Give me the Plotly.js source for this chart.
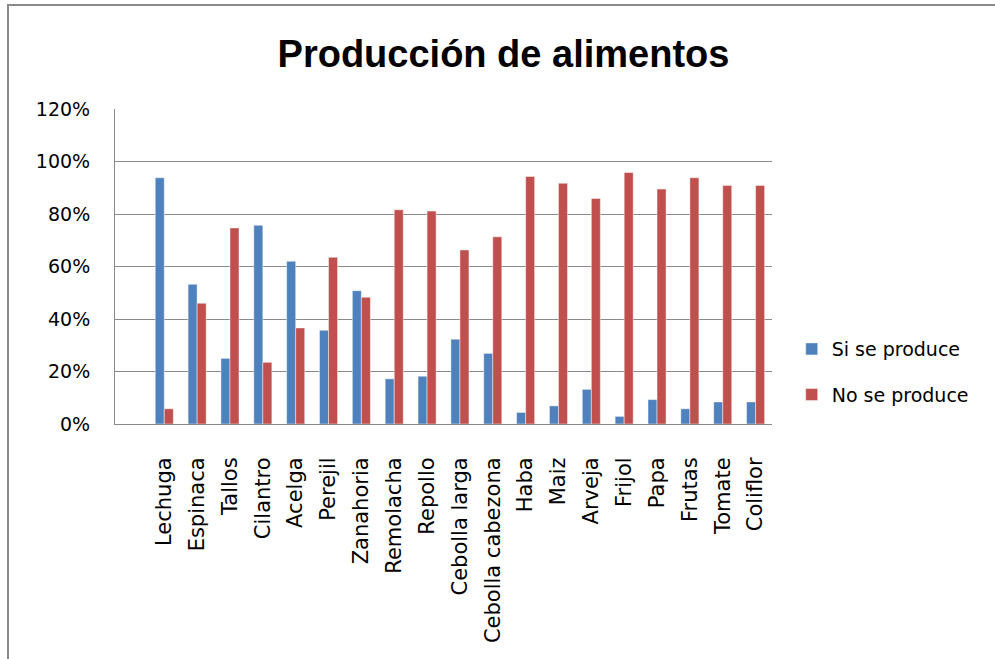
<!DOCTYPE html>
<html>
<head>
<meta charset="utf-8">
<script src="https://cdn.plot.ly/plotly-3.0.1.min.js"></script>
<style>
  html, body { margin: 0; padding: 0; background: #ffffff; }
  #wrap { position: relative; width: 995px; height: 659px; overflow: hidden; background: #ffffff; }
  #frame { position: absolute; left: 7px; top: 4px; width: 1000px; height: 700px;
           border-left: 2px solid #8a8a8a; border-top: 2px solid #8a8a8a; }
  #chart { position: absolute; left: 0; top: 0; width: 995px; height: 659px; }
</style>
</head>
<body>
<div id="wrap">
  <div id="frame"></div>
  <div id="chart"></div>
</div>
<script>
const categories = ["Lechuga", "Espinaca", "Tallos", "Cilantro", "Acelga", "Perejil", "Zanahoria",
  "Remolacha", "Repollo", "Cebolla larga", "Cebolla cabezona", "Haba", "Maiz", "Arveja",
  "Frijol", "Papa", "Frutas", "Tomate", "Coliflor"];
const siSeProduce = [0.938, 0.532, 0.250, 0.757, 0.620, 0.357, 0.508, 0.172, 0.182, 0.323,
  0.269, 0.044, 0.069, 0.132, 0.029, 0.093, 0.058, 0.084, 0.084];
const noSeProduce = [0.058, 0.460, 0.747, 0.235, 0.366, 0.635, 0.483, 0.816, 0.811, 0.663,
  0.713, 0.943, 0.917, 0.859, 0.958, 0.895, 0.938, 0.909, 0.909];
const seriesNames = ["Si se produce", "No se produce"];
const yTickValues = [0, 0.2, 0.4, 0.6, 0.8, 1.0, 1.2];

const COLOR_SI = "#4F81BD";
const COLOR_NO = "#C0504D";

const traces = [
  { type: "bar", name: seriesNames[0], x: categories, y: siSeProduce, legendgroup: "g1",
    marker: { color: COLOR_SI, line: { color: "rgba(255,255,255,0.45)", width: 1 } },
    hoverinfo: "x+y" },
  { type: "bar", name: seriesNames[1], x: categories, y: noSeProduce, legendgroup: "g2",
    marker: { color: COLOR_NO, line: { color: "rgba(255,255,255,0.45)", width: 1 } },
    hoverinfo: "x+y" }
];

const tickFont = { family: "DejaVu Sans, Verdana, sans-serif", size: 19, color: "#000000" };

const layout = {
  width: 995, height: 659,
  paper_bgcolor: "rgba(0,0,0,0)",
  plot_bgcolor: "rgba(0,0,0,0)",
  margin: { l: 115, r: 223, t: 109, b: 235, pad: 0 },
  title: {
    text: "<b>Producción de alimentos</b>",
    font: { family: "Liberation Sans, Arial, sans-serif", size: 38, color: "#000000" },
    x: 0.506, xref: "container", xanchor: "center",
    y: 0.918, yref: "container", yanchor: "middle"
  },
  barmode: "group",
  bargap: 0.45,
  bargroupgap: 0,
  showlegend: true,
  legend: {
    x: 1.03, xanchor: "left", y: 0.165, yanchor: "middle",
    font: { family: "DejaVu Sans, Verdana, sans-serif", size: 19, color: "#000000" },
    bgcolor: "rgba(0,0,0,0)", borderwidth: 0,
    tracegroupgap: 18, itemwidth: 30
  },
  xaxis: {
    type: "category",
    range: [-1.5, categories.length - 0.5],
    tickangle: -90,
    tickfont: { family: "DejaVu Sans, Verdana, sans-serif", size: 21, color: "#000000" },
    ticks: "outside", ticklen: 24, tickcolor: "rgba(0,0,0,0)",
    showline: true, linecolor: "#8a8a8a", linewidth: 1,
    showgrid: false, zeroline: false, automargin: false, fixedrange: true
  },
  yaxis: {
    range: [0, 1.2],
    tickvals: yTickValues,
    tickformat: ".0%",
    tickfont: tickFont,
    ticks: "outside", ticklen: 20, tickcolor: "rgba(0,0,0,0)",
    showline: true, linecolor: "#8a8a8a", linewidth: 1,
    showgrid: true, gridcolor: "#8a8a8a", gridwidth: 1,
    zeroline: false, automargin: false, fixedrange: true
  }
};

Plotly.newPlot("chart", traces, layout, { displayModeBar: false, staticPlot: true });
</script>
</body>
</html>
